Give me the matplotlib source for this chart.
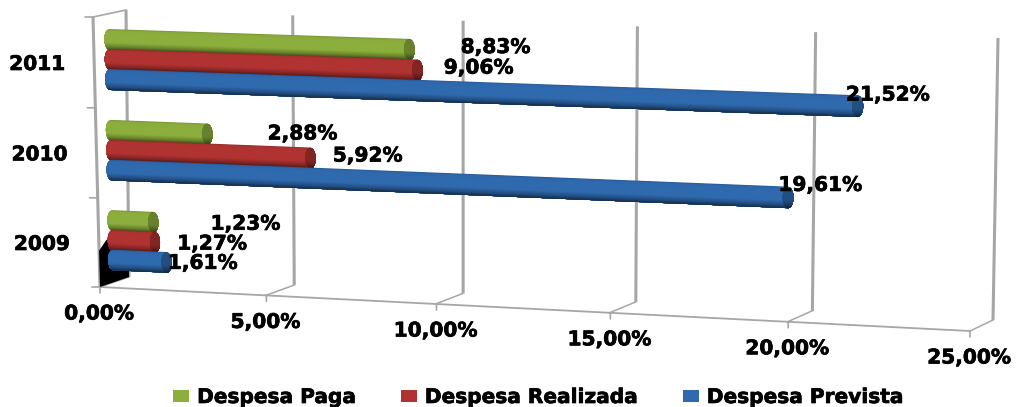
import numpy as np
import matplotlib
matplotlib.use("Agg")
import matplotlib.pyplot as plt
import matplotlib.patheffects as pe
from matplotlib.collections import PolyCollection
from matplotlib.patches import Patch
from matplotlib.transforms import Transform
from matplotlib.colors import to_rgb

# ---------- data ----------
categories = ['2009', '2010', '2011']
series_names = ['Despesa Paga', 'Despesa Realizada', 'Despesa Prevista']
despesa_paga = [1.23, 2.88, 8.83]
despesa_realizada = [1.27, 5.92, 9.06]
despesa_prevista = [1.61, 19.61, 21.52]
value_ticks = [0, 5, 10, 15, 20, 25]

# ---------- styles ----------
series_colors = ['#8CAE3C', '#B03331', '#2F69AE']
series_values = [despesa_paga, despesa_realizada, despesa_prevista]
series_offset = [0.22, 0.0, -0.22]
label_offsets = [
    [(92, 2), (95, 0), (86, -2)],
    [(57, 2), (57, -2), (61, -2)],
    [(36, 1), (32, -12), (30, -11)],
]
GRID = '#A6A6A6'
FONT = 'DejaVu Sans'
W, H = 1016, 407
heavy = [pe.withStroke(linewidth=0.5, foreground='black')]
text_style = dict(ha='center', va='center', fontsize=14.5, fontweight='bold', family=FONT,
                  path_effects=heavy)


class Plane(Transform):
    """Projective map of a chart plane onto the canvas."""
    input_dims = output_dims = 2
    is_separable = False
    has_inverse = False

    def __init__(self, src, dst):
        super().__init__()
        A, b = [], []
        for (x, y), (u, v) in zip(src, dst):
            A.append([x, y, 1, 0, 0, 0, -u * x, -u * y])
            A.append([0, 0, 0, x, y, 1, -v * x, -v * y])
            b += [u, v]
        self.h = np.append(np.linalg.solve(np.array(A, float), np.array(b, float)), 1).reshape(3, 3)

    def transform_non_affine(self, values):
        v = np.asarray(values, float)
        p = np.column_stack([v, np.ones(len(v))]) @ self.h.T
        return p[:, :2] / p[:, 2:3]


fig = plt.figure(figsize=(W / 100, H / 100), dpi=100)
ax = fig.add_axes([0, 0, 1, 1])
ax.set_xlim(0, W)
ax.set_ylim(H, 0)
ax.set_autoscale_on(False)
ax.axis('off')

corners = [(0, 0), (25, 0), (25, 3), (0, 3)]
front = Plane(corners, [(100, 287), (970, 331), (975, 46), (93, 17)]) + ax.transData
back = Plane(corners, [(129, 277), (993, 320), (998, 38), (126, 10)]) + ax.transData
mid = Plane(corners, [(113.5, 285), (981, 325.5), (985.5, 42), (109, 14)]) + ax.transData
unit = [(0, 0), (25, 0), (25, 1), (0, 1)]
floor = Plane(unit, [(100, 287), (970, 331), (993, 320), (129, 277)]) + ax.transData
left = Plane([(0, 0), (1, 0), (1, 3), (0, 3)],
             [(100, 287), (129, 277), (126, 10), (93, 17)]) + ax.transData

# back wall gridlines
for v in value_ticks:
    ax.plot([v, v], [0, 3], color=GRID, lw=2.2, transform=back, zorder=1, solid_capstyle='butt')
    ax.plot([v, v], [0, 1], color=GRID, lw=1.1, transform=floor, zorder=1)

# black artefact on the left wall
ax.fill([0, 1, 1, 0.25, 0], [0, 0, 0.6, 0.55, 0.45], color='black', lw=0, transform=left, zorder=2)

# front axis lines and ticks
ax.plot([0, 25], [0, 0], color=GRID, lw=1.3, transform=front, zorder=1)
ax.plot([0, 0], [0, 3], color=GRID, lw=2.2, transform=front, zorder=1, solid_capstyle='butt')
ax.plot([0, 1], [3, 3], color=GRID, lw=1.2, transform=left, zorder=1)
for v in value_ticks:
    ax.annotate('', xy=(v, 0), xycoords=front, xytext=(0, -6), textcoords='offset pixels',
                arrowprops=dict(arrowstyle='-', color=GRID, lw=1.2, shrinkA=0, shrinkB=0), zorder=1)
    label = f"{v:.2f}".replace('.', ',') + '%'
    ax.annotate(label, xy=(v, 0), xycoords=front, xytext=(-1, -27), textcoords='offset pixels',
                zorder=6, **text_style)
for c in range(4):
    ax.annotate('', xy=(0, c), xycoords=front, xytext=(-8, 0), textcoords='offset pixels',
                arrowprops=dict(arrowstyle='-', color=GRID, lw=1.2, shrinkA=0, shrinkB=0), zorder=1)
for c, name in enumerate(categories):
    ax.annotate(name, xy=(0, c + 0.5), xycoords=front, xytext=(-57, -2), textcoords='offset pixels',
                zorder=6, **text_style)


def shade(t):
    """Brightness across the cylinder; t runs from 0 at the top to 1 at the bottom."""
    return np.interp(t, [0, 0.06, 0.2, 0.65, 0.85, 1], [0.82, 0.98, 1.0, 1.0, 0.74, 0.42])


def cylinder(c_mid, value, color, z):
    half_h, half_w = 0.115, 0.15
    rgb = np.array(to_rgb(color))
    ts = np.linspace(0, 1, 33)
    verts, cols, cap_verts, cap_cols = [], [], [], []
    for t0 in ts[:-1]:
        # each band reaches the bottom of the bar and is painted over by the next one
        us = np.linspace(2 * t0 - 1, 1, 24)
        es = half_w * np.sqrt(1 - us ** 2)
        ys = c_mid - us * half_h
        s = shade(t0 + 0.5 / 32)
        verts.append(list(zip(value + es, ys)) + list(zip(-es[::-1], ys[::-1])))
        cols.append(np.clip(rgb * s, 0, 1))
        cap_verts.append(list(zip(value + es, ys)) + list(zip(value - es[::-1], ys[::-1])))
        cap_cols.append(np.clip(rgb * s * 0.74, 0, 1))
    ax.add_collection(PolyCollection(verts, facecolors=cols, edgecolors='none', linewidths=0,
                                     transform=mid, zorder=z), autolim=False)
    ax.add_collection(PolyCollection(cap_verts, facecolors=cap_cols, edgecolors='none', linewidths=0,
                                     transform=mid, zorder=z + 0.01), autolim=False)


z = 3.0
for c in [2, 1, 0]:
    for s in range(3):
        cylinder(c + 0.5 + series_offset[s], series_values[s][c], series_colors[s], z)
        z += 0.02

# value labels
for s in range(3):
    for c in range(3):
        v = series_values[s][c]
        dx, dy = label_offsets[s][c]
        ax.annotate(f"{v:.2f}".replace('.', ',') + '%', xy=(v, c + 0.5 + series_offset[s]), xycoords=mid,
                    xytext=(dx, -dy), textcoords='offset pixels', zorder=7, **text_style)

handles = [Patch(facecolor=col, edgecolor='none') for col in series_colors]
leg = ax.legend(handles, series_names, ncol=3, loc='center', bbox_to_anchor=(538.5 / W, 1 - 397.5 / H),
                frameon=False, prop=dict(family=FONT, weight='bold', size=14.5),
                handlelength=0.8, handleheight=0.5, handletextpad=0.4, columnspacing=2.2,
                borderpad=0, borderaxespad=0)
for t in leg.get_texts():
    t.set_path_effects(heavy)

fig.savefig('out.png', dpi=100)
